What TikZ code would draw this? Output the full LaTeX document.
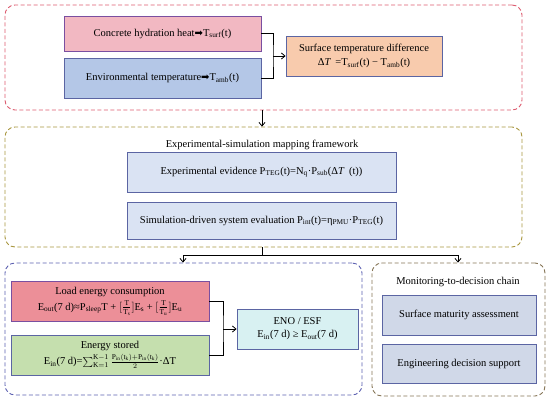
\documentclass[tikz,border=0pt]{standalone}
\usepackage{fontspec}
\setmainfont{Liberation Serif}
\newfontfamily\symfont{DejaVu Sans}
\usetikzlibrary{arrows.meta}
\newcommand{\harr}{{\symfont\fontsize{10}{12}\selectfont ➡}}
\newcommand{\sub}[1]{\textsubscript{#1}}
\definecolor{cpink}{HTML}{F2B8C2}
\definecolor{cblue}{HTML}{B4C7E7}
\definecolor{corange}{HTML}{F8CBAD}
\definecolor{cpale}{HTML}{DAE3F3}
\definecolor{cred}{HTML}{EC8F98}
\definecolor{cgreen}{HTML}{C5DFAE}
\definecolor{ccyan}{HTML}{D8F1F2}
\definecolor{cgray}{HTML}{D0D8E8}
\definecolor{bslate}{HTML}{5B65A3}
\definecolor{bpurple}{HTML}{7A4FA0}
\definecolor{dred}{HTML}{DC5A6E}
\definecolor{dolive}{HTML}{A8963E}
\definecolor{dblue}{HTML}{5B5FB0}
\definecolor{dbrown}{HTML}{857455}
\begin{document}
\begin{tikzpicture}[x=1pt,y=-1pt,
  every node/.style={font=\fontsize{10.5}{13}\selectfont, inner sep=0pt, align=center},
  box/.style={draw=bslate, line width=0.9pt, fill=#1},
  cont/.style={draw=#1, dash pattern=on 4pt off 2.5pt, line width=0.9pt, rounded corners=10pt},
  conn/.style={draw=black, line width=0.8pt},
  arr/.style={conn, -{Straight Barb[length=3.5pt,width=6pt]}},
]
\useasboundingbox (0,0) rectangle (550,402);

% containers
\node[cont=dred, minimum width=517pt, minimum height=105pt] (c1) at (263.5,57.5) {};
\node[cont=dolive, minimum width=517pt, minimum height=120pt] (c2) at (263.5,187) {};
\node[cont=dblue, minimum width=357pt, minimum height=132pt] (c3) at (183.5,329) {};
\node[cont=dbrown, minimum width=173pt, minimum height=133pt] (c4) at (458.5,329.5) {};

% top
\node[box=cpink, draw=bpurple, minimum width=197pt, minimum height=35pt] (b1) at (162.5,33.5)
  {Concrete hydration heat\harr T\sub{surf}(t)};
\node[box=cblue, minimum width=197pt, minimum height=40pt] (b2) at (162.5,78)
  {Environmental temperature\harr T\sub{amb}(t)};
\node[box=corange, minimum width=156pt, minimum height=40pt] (b3) at (364,56)
  {Surface temperature difference\\[1pt]Δ\textit{T} \,=T\sub{surf}(t) − T\sub{amb}(t)};
\coordinate (j1) at (273,56);
\draw[conn] (b1.east) -| (j1) |- (b2.east);
\draw[arr] (j1) -- (b3.west);

% middle
\node (t1) at (262,145) {Experimental-simulation mapping framework};
\node[box=cpale, minimum width=269pt, minimum height=40pt] (b4) at (261.5,172)
  {Experimental evidence P\sub{TEG}(t)=N\sub{q}·P\sub{sub}(Δ\textit{T}\, (t))};
\node[box=cpale, minimum width=269pt, minimum height=37pt] (b5) at (261.5,220.5)
  {Simulation-driven system evaluation P\sub{int}(t)=η\sub{PMU}·P\sub{TEG}(t)};
\draw[arr] (c1.south -| t1) -- (c2.north -| t1);

% split
\coordinate (s0) at (262,255);
\coordinate (sl) at (183,255);
\coordinate (sr) at (458,255);
\draw[conn] (c2.south -| s0) -- (s0);
\draw[conn] (sl) -- (sr);
\draw[arr] (sl) -- (c3.north -| sl);
\draw[arr] (sr) -- (c4.north -| sr);

% bottom left
\node[box=cred, draw=bpurple, minimum width=198pt, minimum height=40pt] (b6) at (110,301)
  {Load energy consumption\\[3pt]E\sub{out}(7 d)≈P$_{\mathrm{sleep}}$T + $[\frac{\mathrm{T}}{\mathrm{T_s}}]$E\sub{s} + $[\frac{\mathrm{T}}{\mathrm{T_u}}]$E\sub{u}};
\node[box=cgreen, minimum width=198pt, minimum height=40pt] (b7) at (110,355)
  {Energy stored\\[3pt]E\sub{in}(7 d)=$\sum_{\mathrm{K=1}}^{\mathrm{K-1}}\frac{\mathrm{P_{in}(t_k)+P_{in}(t_k)}}{2}$·ΔT};
\node[box=ccyan, minimum width=121pt, minimum height=40pt] (b8) at (297.5,329)
  {ENO / ESF\\E\sub{in}(7 d) ≥ E\sub{out}(7 d)};
\coordinate (j2) at (223,329);
\draw[conn] (b6.east) -| (j2) |- (b7.east);
\draw[arr] (j2) -- (b8.west);

% bottom right
\node (t2) at (458,282) {Monitoring-to-decision chain};
\node[box=cgray, minimum width=154pt, minimum height=40pt] (b9) at (459,315) {Surface maturity assessment};
\node[box=cgray, minimum width=154pt, minimum height=39pt] (b10) at (459,363.5) {Engineering decision support};
\end{tikzpicture}
\end{document}
